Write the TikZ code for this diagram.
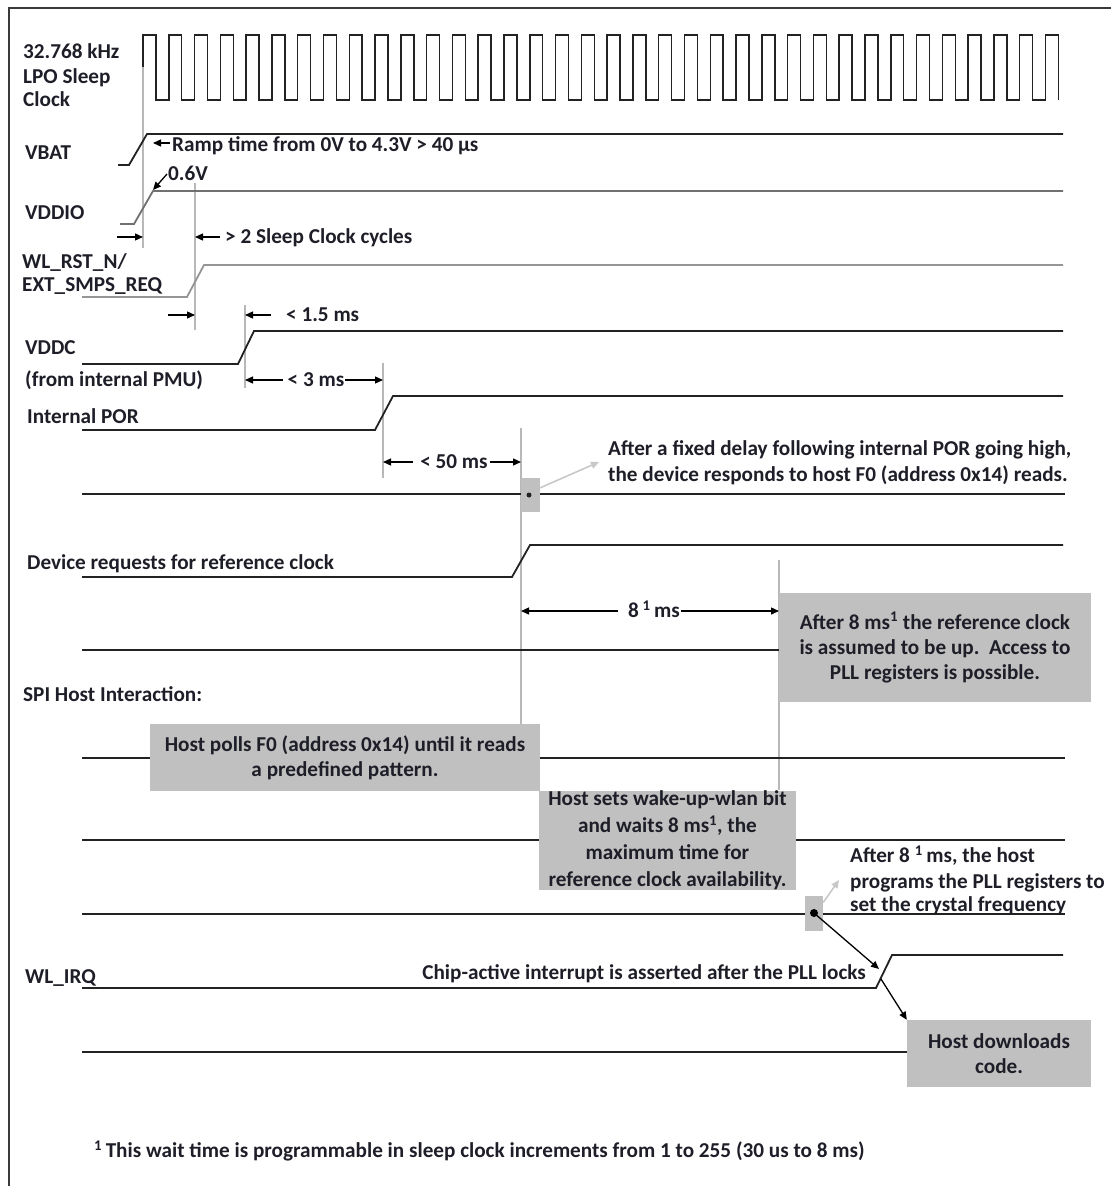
\documentclass[tikz,border=0pt]{standalone}
\usepackage{fontspec}
\setmainfont{Carlito}
\usetikzlibrary{arrows.meta}
\definecolor{cTxt}{HTML}{1E1E28}
\definecolor{cSig}{HTML}{222222}
\definecolor{cSigG}{HTML}{707070}
\definecolor{cSigL}{HTML}{959595}
\definecolor{cBox}{HTML}{C0C0C0}
\definecolor{cMark}{HTML}{B8B8B8}
\definecolor{cGArr}{HTML}{C8C8C8}
\definecolor{cFrame}{HTML}{3A3A3A}
\tikzset{
  sigline/.style={draw=cSig, line width=1.8bp, line join=miter},
  clkline/.style={draw=cSig, line width=1.5bp, line join=miter},
  mk/.style={draw=cMark, line width=1.1bp},
  arr/.style={draw=black, line width=1.3bp, -{Triangle[length=8bp,width=7bp]}},
  garr/.style={draw=cGArr, line width=1.6bp, -{Triangle[length=8bp,width=7bp]}},
  txtfont/.style={font=\fontsize{21.2bp}{25bp}\selectfont\bfseries},
  lbl/.style={txtfont, inner sep=0pt, text=cTxt, text height=17.6bp, text depth=4bp},
  gbox/.style={txtfont, fill=cBox, inner sep=0pt, align=center, text=cTxt},
}
\begin{document}
\begin{tikzpicture}[x=1bp,y=-1bp]
\useasboundingbox (0,0) rectangle (1111,1186);
% frame
\draw[draw=cFrame, line width=2bp] (9,1186) -- (9,8) -- (1111,8);

% marker coordinates
\coordinate (m1t) at (143,67);  \coordinate (m1b) at (143,248);
\coordinate (m2t) at (195,183); \coordinate (m2b) at (195,330);
\coordinate (m3t) at (245,305); \coordinate (m3b) at (245,388);
\coordinate (m4t) at (383,363); \coordinate (m4b) at (383,478);
\coordinate (m5t) at (521,428); \coordinate (m5b) at (521,724);
\coordinate (m6t) at (779,560); \coordinate (m6b) at (779,790);
\foreach \m in {1,...,6} \draw[mk] (m\m t) -- (m\m b);

% clock
\draw[clkline] (143,67) -- (143,35)
  foreach \i in {1,...,35} { -- ++(12.9,0) -- ++(0,65) -- ++(12.886,0) -- ++(0,-65) }
  -- ++(12.9,0) -- ++(0,65);

% waveforms
\draw[sigline] (118,165) -- (129,165) -- (147,134) -- (1063,134);
\draw[sigline, draw=cSigG] (120,224) -- (134,224) -- (153,191) -- (1063,191);
\draw[sigline, draw=cSigL] (82,297) -- (187,297) -- (204,265) -- (1063,265);
\draw[sigline] (82,364) -- (238,364) -- (254,331) -- (1063,331);
\draw[sigline] (82,430) -- (375,430) -- (393,396) -- (1063,396);
\draw[sigline] (82,494) -- (1065,494);
\draw[sigline] (82,577) -- (512,577) -- (530,545) -- (1063,545);
\draw[sigline] (82,650) -- (779,650);
\draw[sigline] (82,758) -- (1065,758);
\draw[sigline] (82,840) -- (1065,840);
\draw[sigline] (82,914) -- (1065,914);
\draw[sigline] (82,988) -- (876,988) -- (892,955) -- (1063,955);
\draw[sigline] (82,1052) -- (907,1052);

% labels
\node[lbl,anchor=west] (l1) at (23,52) {32.768 kHz};
\node[lbl,anchor=west] (l2) at (23,77) {LPO Sleep};
\node[lbl,anchor=west] (l3) at (23,100) {Clock};
\node[lbl,anchor=west] (l4) at (25,153) {VBAT};
\node[lbl,anchor=west] (l5) at (25,213) {VDDIO};
\node[lbl,anchor=west] (l6) at (22,262) {WL\_RST\_N/};
\node[lbl,anchor=west] (l7) at (22,285) {EXT\_SMPS\_REQ};
\node[lbl,anchor=west] (l8) at (25,348) {VDDC};
\node[lbl,anchor=west] (l9) at (25,380) {(from internal PMU)};
\node[lbl,anchor=west] (l10) at (27,417) {Internal POR};
\node[lbl,anchor=west] (l11) at (27,563) {Device requests for reference clock};
\node[lbl,anchor=west] (l12) at (23,695) {SPI Host Interaction:};
\node[lbl,anchor=west] (l13) at (25,977) {WL\_IRQ};

% annotations with dimension arrows
\node[lbl,anchor=west] (ramp) at (172,145) {Ramp time from 0V to 4.3V > 40 µs};
\draw[arr] ([shift={(-2,-2)}]ramp.west) -- ([shift={(-19,-2)}]ramp.west);
\node[lbl,anchor=west] (v06) at (168,174) {0.6V};
\coordinate (vr) at (153,190);
\draw[arr] ([shift={(-1,0)}]v06.west) -- (vr);
\node[lbl,anchor=west] (sl2) at (225,237) {> 2 Sleep Clock cycles};
\coordinate (a1) at (117,237);
\draw[arr] (a1) -- (sl2.west -| m1t);
\draw[arr] ([xshift=-5bp]sl2.west) -- (sl2.west -| m2t);
\node[lbl,anchor=west] (t15) at (286,315) {< 1.5 ms};
\coordinate (a2) at (168,315);
\draw[arr] (a2) -- (t15.west -| m2t);
\draw[arr] ([xshift=-15bp]t15.west) -- (t15.west -| m3t);
\node[lbl] (t3) at (316,380) {< 3 ms};
\draw[arr] ([xshift=-5bp]t3.west) -- (t3.west -| m3t);
\draw[arr] ([xshift=1bp]t3.east) -- (t3.east -| m4t);
\node[lbl] (t50) at (454,462) {< 50 ms};
\draw[arr] ([xshift=-7bp]t50.west) -- (t50.west -| m4t);
\draw[arr] ([xshift=2bp]t50.east) -- (t50.east -| m5t);
\node[lbl] (t8) at (654,611) {8\,\textsuperscript{1}\,ms};
\draw[arr] ([xshift=-10bp]t8.west) -- (t8.west -| m5t);
\draw[arr] ([xshift=1bp]t8.east) -- (t8.east -| m6t);

% F0 response note
\node[gbox, minimum width=19bp, minimum height=34bp] (sb1) at (530.5,495) {};
\fill[cSig] (529,495) circle (2.5bp);
\node[lbl,anchor=west] (f0a) at (608,449) {After a fixed delay following internal POR going high,};
\node[lbl,anchor=west] (f0b) at (608,475) {the device responds to host F0 (address 0x14) reads.};
\draw[garr] (sb1.north east) ++(0,10) -- ([shift={(-9,13)}]f0a.west);

% grey boxes
\node[gbox, minimum width=312bp, minimum height=109bp] (refup) at (935,647.5)
  {After 8 ms\textsuperscript{1} the reference clock\\is assumed to be up.\ \ Access to\\PLL registers is possible.};
\node[gbox, minimum width=390bp, minimum height=67bp] (poll) at (345,757.5)
  {Host polls F0 (address 0x14) until it reads\\a predefined pattern.};
\node[gbox, minimum width=257bp, minimum height=99bp, font=\fontsize{21.2bp}{27bp}\selectfont\bfseries] (wake) at (667.5,840.5)
  {Host sets wake-up-wlan bit\\and waits 8 ms\textsuperscript{1}, the\\maximum time for\\reference clock availability.};

% PLL programming
\node[gbox, minimum width=18bp, minimum height=35bp] (sb2) at (814,913.5) {};
\fill[black] (814,913) circle (4bp) coordinate (dot);
\node[lbl,anchor=west] (pll1) at (850,856) {After 8 \textsuperscript{1}\,ms, the host};
\node[lbl,anchor=west] (pll2) at (850,882) {programs the PLL registers to};
\node[lbl,anchor=west] (pll3) at (850,905) {set the crystal frequency};
\draw[garr] ([shift={(0,-11)}]sb2.east) -- ([shift={(-11,-2)}]pll2.west);

\node[lbl,anchor=east] (chip) at (866,973) {Chip-active interrupt is asserted after the PLL locks};
\coordinate (irq) at (879,969);
\draw[arr] (dot) -- (irq);
\node[gbox, minimum width=184bp, minimum height=67bp] (dl) at (999,1053.5) {Host downloads\\code.};
\draw[arr] (881,979) -- (dl.north west);

% footnote
\node[lbl,anchor=west] (fn) at (94,1151) {\textsuperscript{1}\,This wait time is programmable in sleep clock increments from 1 to 255 (30 us to 8 ms)};
\end{tikzpicture}
\end{document}
